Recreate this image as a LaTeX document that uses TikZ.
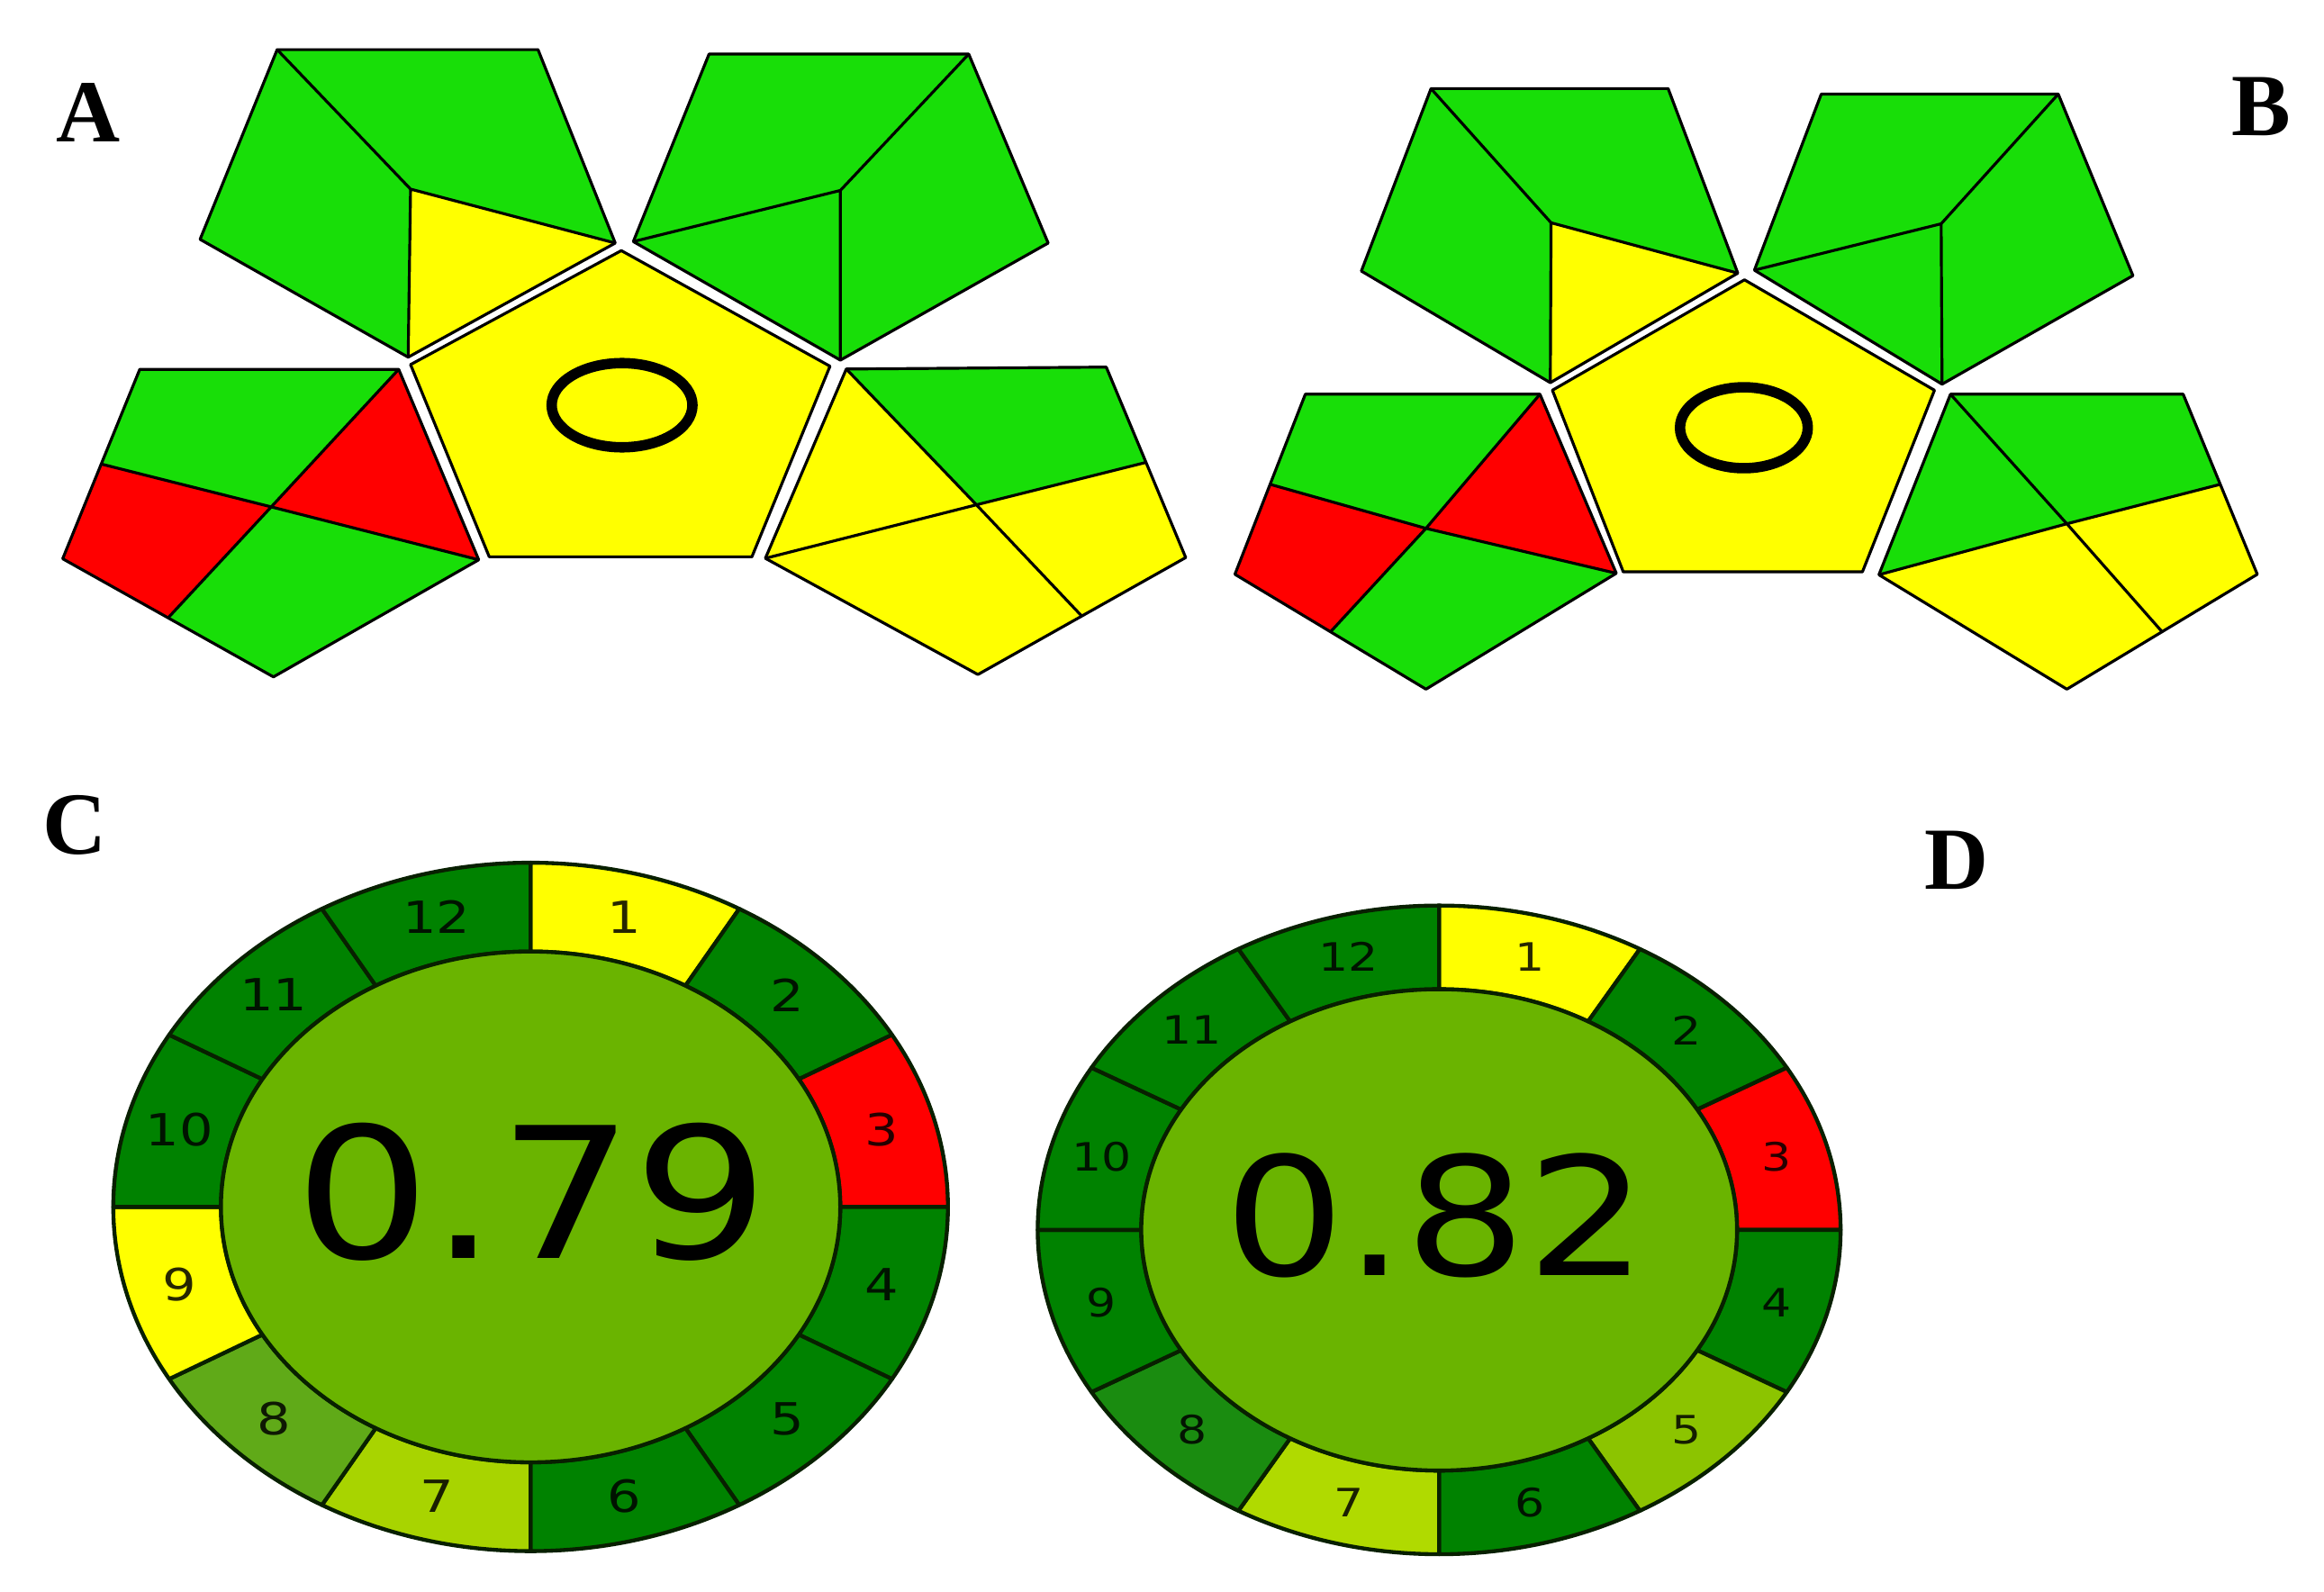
\documentclass[tikz,border=0pt]{standalone}
\usepackage{fontspec}
\setmainfont{Liberation Serif}
\newfontfamily\dejavu{DejaVu Sans}
\definecolor{pgreen}{RGB}{24,222,8}
\definecolor{pyellow}{RGB}{255,255,0}
\definecolor{pred}{RGB}{255,0,0}
\definecolor{dgreen}{RGB}{0,130,0}
\definecolor{dgreenb}{RGB}{26,140,16}
\definecolor{igreen}{RGB}{106,180,0}
\definecolor{lgreen}{RGB}{168,212,0}
\definecolor{lgreenb}{RGB}{176,218,0}
\definecolor{mgreen}{RGB}{96,170,24}
\definecolor{ygreen}{RGB}{140,196,0}
\definecolor{ringline}{RGB}{8,32,0}
\begin{document}
\begin{tikzpicture}[x=0.01cm,y=-0.01cm,
  reg/.style={line width=0.55pt, draw=black, line join=round},
  seg/.style={draw=ringline, line width=0.75pt, line join=round},
  panel/.style={font=\fontsize{17}{17}\selectfont\bfseries, inner sep=0pt, anchor=base},
  labC/.style={font=\dejavu\fontsize{8.5}{8.5}\selectfont, xscale=1.2, text=black, text opacity=0.85, inner sep=0pt},
  labD/.style={font=\dejavu\fontsize{7.5}{7.5}\selectfont, xscale=1.2, text=black, text opacity=0.85, inner sep=0pt},
  ring/.style={line width=2pt, draw=black}
]
\useasboundingbox (0,0) rectangle (1568,1074);
\fill[white] (0,0) rectangle (1568,1074);

%================ PANEL A ================
% top-left pentagon
\coordinate (a1) at (187,33.5);
\coordinate (a2) at (363,33.5);
\coordinate (a3) at (415.1,164);
\coordinate (a4) at (275.4,241);
\coordinate (a5) at (135,161.5);
\coordinate (ac) at (277,127.6);
\fill[pgreen] (a1)--(a2)--(a3)--(ac)--cycle;
\fill[pgreen] (a1)--(ac)--(a4)--(a5)--cycle;
\fill[pyellow] (ac)--(a3)--(a4)--cycle;
\draw[reg] (a1)--(a2)--(a3)--(a4)--(a5)--cycle;
\draw[reg] (a1)--(ac)--(a3) (ac)--(a4);
% top-right pentagon
\coordinate (b1) at (478.4,36.5);
\coordinate (b2) at (653.6,36.5);
\coordinate (b3) at (707.2,164);
\coordinate (b4) at (567,243);
\coordinate (b5) at (427.3,163);
\coordinate (bc) at (567,128.5);
\fill[pgreen] (b1)--(b2)--(b3)--(b4)--(b5)--cycle;
\draw[reg] (b1)--(b2)--(b3)--(b4)--(b5)--cycle;
\draw[reg] (b2)--(bc)--(b5) (bc)--(b4);
% bottom-left pentagon
\coordinate (c1) at (94.3,249.2);
\coordinate (c2) at (269,249.2);
\coordinate (c3) at (323,377.7);
\coordinate (c4) at (184.5,456.7);
\coordinate (c5) at (42.3,377);
\coordinate (cc) at (183,342);
\coordinate (cp) at (68.3,313.1);
\coordinate (cq) at (113.4,416.9);
\fill[pgreen] (c1)--(c2)--(cc)--(cp)--cycle;
\fill[pred] (c2)--(c3)--(cc)--cycle;
\fill[pred] (cp)--(cc)--(cq)--(c5)--cycle;
\fill[pgreen] (cc)--(c3)--(c4)--(cq)--cycle;
\draw[reg] (c1)--(c2)--(c3)--(c4)--(c5)--cycle;
\draw[reg] (cp)--(cc)--(c3) (c2)--(cc)--(cq);
% bottom-right pentagon
\coordinate (d1) at (571,249);
\coordinate (d2) at (746.4,247.7);
\coordinate (d3) at (800,376.2);
\coordinate (d4) at (659.8,455.1);
\coordinate (d5) at (516.4,376.7);
\coordinate (dc) at (658.8,340.6);
\coordinate (dr) at (773.2,312);
\coordinate (ds) at (729.9,415.7);
\fill[pgreen] (d1)--(d2)--(dr)--(dc)--cycle;
\fill[pyellow] (d1)--(dc)--(d5)--cycle;
\fill[pyellow] (dc)--(dr)--(d3)--(ds)--cycle;
\fill[pyellow] (d5)--(dc)--(ds)--(d4)--cycle;
\draw[reg] (d1)--(d2)--(d3)--(d4)--(d5)--cycle;
\draw[reg] (d1)--(dc)--(ds) (d5)--(dc)--(dr);
% central pentagon
\coordinate (eT) at (419.2,169.1);
\coordinate (eUR) at (560,247.1);
\coordinate (eLR) at (507.3,375.7);
\coordinate (eLL) at (330.1,375.7);
\coordinate (eUL) at (277,246);
\filldraw[reg, fill=pyellow] (eT)--(eUR)--(eLR)--(eLL)--(eUL)--cycle;
\draw[ring] (419.7,273.4) ellipse[x radius=47.5, y radius=28.4];

%================ PANEL B ================
\coordinate (f1) at (965.5,59.8);
\coordinate (f2) at (1125.5,59.8);
\coordinate (f3) at (1172.5,184.3);
\coordinate (f4) at (1046,258.2);
\coordinate (f5) at (918.5,182.9);
\coordinate (fc) at (1046.5,150.3);
\fill[pgreen] (f1)--(f2)--(f3)--(fc)--cycle;
\fill[pgreen] (f1)--(fc)--(f4)--(f5)--cycle;
\fill[pyellow] (fc)--(f3)--(f4)--cycle;
\draw[reg] (f1)--(f2)--(f3)--(f4)--(f5)--cycle;
\draw[reg] (f1)--(fc)--(f3) (fc)--(f4);

\coordinate (g1) at (1228.8,63.5);
\coordinate (g2) at (1388.7,63.5);
\coordinate (g3) at (1439.1,186);
\coordinate (g4) at (1310.3,259.2);
\coordinate (g5) at (1183.7,182.3);
\coordinate (gc) at (1309.7,151);
\fill[pgreen] (g1)--(g2)--(g3)--(g4)--(g5)--cycle;
\draw[reg] (g1)--(g2)--(g3)--(g4)--(g5)--cycle;
\draw[reg] (g2)--(gc)--(g5) (gc)--(g4);

\coordinate (h1) at (880.7,266);
\coordinate (h2) at (1039,266);
\coordinate (h3) at (1090.5,386.8);
\coordinate (h4) at (962.1,465);
\coordinate (h5) at (833.2,387.5);
\coordinate (hc) at (962.1,356.5);
\coordinate (hp) at (857,326.8);
\coordinate (hq) at (897.7,426.3);
\fill[pgreen] (h1)--(h2)--(hc)--(hp)--cycle;
\fill[pred] (h2)--(h3)--(hc)--cycle;
\fill[pred] (hp)--(hc)--(hq)--(h5)--cycle;
\fill[pgreen] (hc)--(h3)--(h4)--(hq)--cycle;
\draw[reg] (h1)--(h2)--(h3)--(h4)--(h5)--cycle;
\draw[reg] (hp)--(hc)--(h3) (h2)--(hc)--(hq);

\coordinate (k1) at (1316,266);
\coordinate (k2) at (1473,266);
\coordinate (k3) at (1523,387.5);
\coordinate (k4) at (1394.5,465);
\coordinate (k5) at (1267.7,387.8);
\coordinate (kc) at (1394.5,353.4);
\coordinate (kr) at (1498,326.8);
\coordinate (ks) at (1458.8,426.3);
\fill[pgreen] (k1)--(k2)--(kr)--(kc)--cycle;
\fill[pgreen] (k1)--(kc)--(k5)--cycle;
\fill[pyellow] (kc)--(kr)--(k3)--(ks)--cycle;
\fill[pyellow] (k5)--(kc)--(ks)--(k4)--cycle;
\draw[reg] (k1)--(k2)--(k3)--(k4)--(k5)--cycle;
\draw[reg] (k1)--(kc)--(ks) (k5)--(kc)--(kr);

\coordinate (mT) at (1177,188.8);
\coordinate (mUR) at (1305.2,263.3);
\coordinate (mLR) at (1256.6,385.8);
\coordinate (mLL) at (1095.2,385.8);
\coordinate (mUL) at (1047.4,263.3);
\filldraw[reg, fill=pyellow] (mT)--(mUR)--(mLR)--(mLL)--(mUL)--cycle;
\draw[ring] (1176.6,288.6) ellipse[x radius=43.1, y radius=27.3];

%================ PANEL C ================
\begin{scope}[shift={(358,814.3)}, x={(2.814cm,0cm)}, y={(0cm,2.321cm)}]
  \foreach \i/\col in {1/pyellow,2/dgreen,3/pred,4/dgreen,5/dgreen,6/dgreen,7/lgreen,8/mgreen,9/pyellow,10/dgreen,11/dgreen,12/dgreen}{
    \pgfmathsetmacro\sa{90-30*(\i-1)}
    \pgfmathsetmacro\sb{90-30*\i}
    \pgfmathsetmacro\sm{75-30*(\i-1)}
    \filldraw[seg, fill=\col] (\sa:1) arc[start angle=\sa, end angle=\sb, radius=1] -- (\sb:0.742) arc[start angle=\sb, end angle=\sa, radius=0.742] -- cycle;
    \node[labC] (cl\i) at (\sm:0.871) {\i};
  }
  \filldraw[seg, fill=igreen] (0,0) circle[radius=0.742];
\end{scope}
\node[anchor=base, xscale=1.17, inner sep=0pt, font=\dejavu\fontsize{35}{35}\selectfont] (scoreC) at (359,849) {0.79};

%================ PANEL D ================
\begin{scope}[shift={(971,829.8)}, x={(2.707cm,0cm)}, y={(0cm,2.187cm)}]
  \foreach \i/\col in {1/pyellow,2/dgreen,3/pred,4/dgreen,5/ygreen,6/dgreen,7/lgreenb,8/dgreenb,9/dgreen,10/dgreen,11/dgreen,12/dgreen}{
    \pgfmathsetmacro\sa{90-30*(\i-1)}
    \pgfmathsetmacro\sb{90-30*\i}
    \pgfmathsetmacro\sm{75-30*(\i-1)}
    \filldraw[seg, fill=\col] (\sa:1) arc[start angle=\sa, end angle=\sb, radius=1] -- (\sb:0.742) arc[start angle=\sb, end angle=\sa, radius=0.742] -- cycle;
    \node[labD] (dl\i) at (\sm:0.871) {\i};
  }
  \filldraw[seg, fill=igreen] (0,0) circle[radius=0.742];
\end{scope}
\node[anchor=base, xscale=1.157, inner sep=0pt, font=\dejavu\fontsize{31.6}{31.6}\selectfont] (scoreD) at (968.8,860.8) {0.82};

%================ LABELS ================
\node[panel] (labA) at (59.3,96) {A};
\node[panel] (labB) at (1525.5,91.4) {B};
\node[panel] (labC) at (50.7,576) {C};
\node[panel] (labD) at (1320,600) {D};
\end{tikzpicture}
\end{document}
